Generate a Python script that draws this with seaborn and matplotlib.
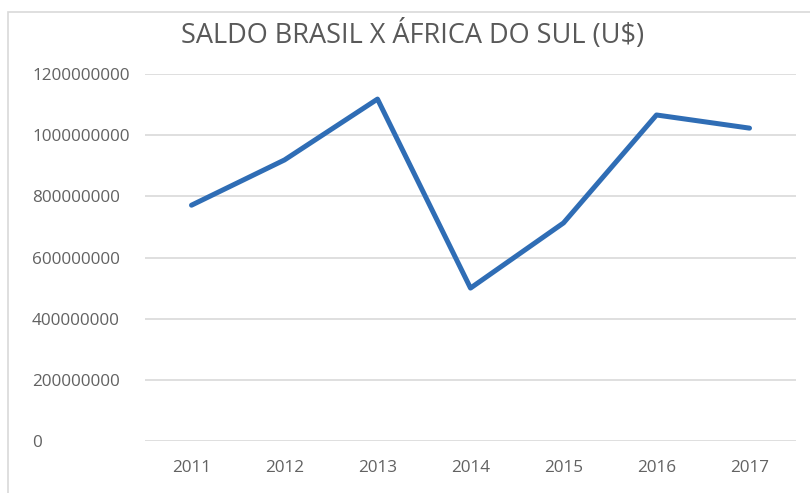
import matplotlib
matplotlib.use("Agg")
import matplotlib.pyplot as plt
import seaborn as sns
import pandas as pd
from matplotlib.patches import Rectangle
from matplotlib.ticker import FixedLocator, FuncFormatter

years = ["2011", "2012", "2013", "2014", "2015", "2016", "2017"]
saldo = [771e6, 919e6, 1118e6, 500e6, 713e6, 1066e6, 1023e6]
yticks = [0, 200000000, 400000000, 600000000, 800000000, 1000000000, 1200000000]
title = "SALDO BRASIL X ÁFRICA DO SUL (U$)"

sns.set_theme(style="white")
plt.rcParams["font.family"] = ["Open Sans", "DejaVu Sans"]

df = pd.DataFrame({"ano": years, "saldo": saldo})

fig = plt.figure(figsize=(8.10, 4.93), dpi=100)
ax = fig.add_axes([145 / 810, 1 - 441 / 493, 651 / 810, (441 - 74) / 493])

sns.lineplot(data=df, x="ano", y="saldo", ax=ax, color="#2F6DB5", linewidth=3.6,
             sort=False)

ax.set_xlim(-0.5, 6.5)
ax.set_ylim(0, 1200000000)
ax.yaxis.set_major_locator(FixedLocator(yticks))
ax.yaxis.set_major_formatter(FuncFormatter(lambda v, p: f"{int(round(v))}"))
ax.grid(axis="y", color="#D9D9D9", linewidth=1.2)
ax.grid(axis="x", visible=False)
ax.set_axisbelow(True)
for s in ax.spines.values():
    s.set_visible(False)
ax.tick_params(axis="y", length=0, pad=(145 - 32) * 0.72, labelsize=12.3,
               labelcolor="#626262")
for lab in ax.get_yticklabels():
    lab.set_horizontalalignment("left")
ax.tick_params(axis="x", length=0, pad=14, labelsize=12.3, labelcolor="#626262")
ax.set_xlabel("")
ax.set_ylabel("")

fig.text(413 / 810, 1 - 35 / 493, title, ha="center", va="center",
         fontsize=19.5, color="#595959")

fig.patches.append(Rectangle((8 / 810, -0.1), 1.2, 1 - 12 / 493 + 0.1,
                             transform=fig.transFigure, fill=False,
                             edgecolor="#D9D9D9", linewidth=1.2))

fig.savefig("out.png", dpi=100)
